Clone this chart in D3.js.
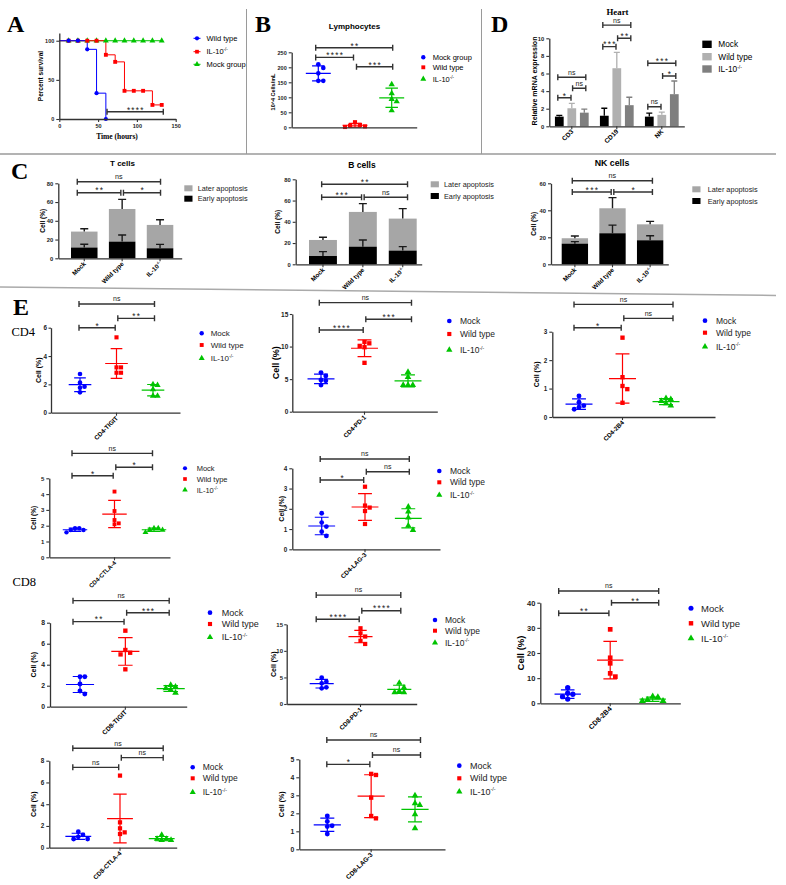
<!DOCTYPE html>
<html><head><meta charset="utf-8">
<script src="https://cdn.jsdelivr.net/npm/d3@7"></script>
<style>body{margin:0;background:#fff}svg{display:block}</style>
</head><body>
<svg id="c" width="786" height="885"></svg>
<script>
// ================= DATA =================
const GROUPS = ["Mock", "Wild type", "IL-10"];
// Panel A: survival (%)
const A_TIMES = [0, 12, 24, 36, 48, 60, 72, 84, 96, 108, 120, 132];
const A_WILD = [100, 100, 100, 89, 33, 0];
const A_IL10 = [100, 100, 100, 100, 100, 82, 73, 36, 36, 36, 18, 18];
const A_MOCK = [100, 100, 100, 100, 100, 100, 100, 100, 100, 100, 100, 100];
const A_TICKS_X = [0, 50, 100, 150];
const A_TICKS_Y = [0, 50, 100];
// Panel B: lymphocytes (10^4 cells/mL)
const B_MOCK = [210, 198, 180, 155, 155];
const B_WILD = [17, 8, 5, 3, 1];
const B_IL10 = [143, 113, 94, 86, 56];
const B_TICKS = [0, 50, 100, 150, 200, 250];
const B_SIG = [["**", 0, 2, 265], ["****", 0, 1, 233], ["***", 1, 2, 202]];
// Panel C: apoptosis (%), order Mock, Wild type, IL-10
const CT_EARLY = [11.5, 17.8, 10.7], CT_EARLY_SD = [3.5, 7.1, 4.2];
const CT_LATER = [17.0, 34.8, 24.9], CT_LATER_SD = [3.1, 10.3, 5.6];
const CB_EARLY = [7.8, 16.6, 12.9], CB_EARLY_SD = [4.1, 6.3, 3.7];
const CB_LATER = [15.1, 32.7, 30.1], CB_LATER_SD = [2.5, 7.8, 9.4];
const CN_EARLY = [15.3, 23.0, 17.8], CN_EARLY_SD = [1.5, 6.0, 3.4];
const CN_LATER = [4.0, 18.5, 11.8], CN_LATER_SD = [1.7, 7.9, 2.2];
const CT_SIG = [["ns", 0, 2, 81.7], ["**", 0, 1, 70], ["*", 1, 2, 70]];
const CB_SIG = [["**", 0, 2, 75.3], ["***", 0, 1, 63.1], ["ns", 1, 2, 63.1]];
const CN_SIG = [["ns", 0, 2, 61.9], ["***", 0, 1, 53.6], ["*", 1, 2, 53.6]];
// Panel D: relative mRNA expression
const D_GENES = ["CD3", "CD19", "NK"];
const D_MOCK = [1.1, 1.2, 1.1], D_MOCK_SD = [0.15, 0.85, 0.4];
const D_WILD = [2.05, 6.6, 1.3], D_WILD_SD = [0.55, 1.8, 0.3];
const D_IL10 = [1.55, 2.4, 3.65], D_IL10_SD = [0.4, 0.9, 1.5];
const D_TICKS = [0, 2, 4, 6, 8, 10];
const D_SIG = [["ns",0,0,2,5.57],["*",0,0,1,3.25],["ns",0,1,2,4.32],
               ["ns",1,0,2,11.5],["***",1,0,1,9.05],["**",1,1,2,10.0],
               ["***",2,0,2,7.16],["*",2,1,2,5.72],["ns",2,0,1,2.23]];
// Panel E: cell (%), [Mock, Wild type, IL-10]
const CD4_TIGIT = [[2.73,2.12,1.84,1.76,1.44],[5.32,3.2,3.2,2.82,2.82],[2.0,1.95,1.65,1.18,1.18]];
const CD4_PD1   = [[6.0,5.5,4.86,4.76,4.1],[10.7,10.5,10.1,9.9,7.5],[6.1,5.3,4.1,4.1,4.1]];
const CD4_2B4   = [[0.74,0.52,0.40,0.34,0.27],[2.79,1.40,1.09,0.98,0.50],[0.66,0.62,0.56,0.48,0.40]];
const CD4_CTLA4 = [[1.84,1.84,1.73,1.73,1.58],[4.16,2.93,2.36,2.15,2.09],[1.84,1.84,1.73,1.73,1.58]];
const CD4_LAG3  = [[1.78,1.32,1.12,0.87,0.66],[3.09,2.16,2.06,1.89,1.25],[2.1,1.86,1.56,1.17,0.95]];
const CD8_TIGIT = [[2.86,2.86,2.16,1.49,1.21],[7.24,5.4,5.14,4.98,3.56],[2.06,1.9,1.75,1.6,1.33]];
const CD8_PD1   = [[4.96,4.2,3.9,3.14,2.95],[14.25,13.3,12.7,11.9,11.3],[3.95,3.1,2.4,2.2,2.2]];
const CD8_2B4   = [[6.2,4.0,3.6,2.65,1.7],[29.4,18.1,15.9,11.9,10.6],[2.65,2.4,1.3,0.9,0.9]];
const CD8_CTLA4 = [[1.47,1.17,1.0,0.8,0.8],[6.63,2.33,1.78,1.41,1.26],[1.17,0.8,0.8,0.7,0.7]];
const CD8_LAG3  = [[1.85,1.54,1.31,1.26,0.85],[4.19,4.13,2.87,1.85,1.72],[2.98,2.56,2.46,1.94,1.17]];
const SIG_CD4_TIGIT = [["ns",0,2,7.67],["*",0,1,6.0],["**",1,2,6.66]];
const SIG_CD4_PD1   = [["ns",0,2,16.74],["****",0,1,12.55],["***",1,2,14.19]];
const SIG_CD4_2B4   = [["ns",0,2,3.96],["*",0,1,3.14],["ns",1,2,3.47]];
const SIG_CD4_CTLA4 = [["ns",0,2,6.58],["*",0,1,5.16],["*",1,2,5.7]];
const SIG_CD4_LAG3  = [["ns",0,2,4.46],["*",0,1,3.42],["ns",1,2,3.83]];
const SIG_CD8_TIGIT = [["ns",0,2,10.1],["**",0,1,8.1],["***",1,2,8.95]];
const SIG_CD8_PD1   = [["ns",0,2,20.5],["****",0,1,15.94],["****",1,2,17.56]];
const SIG_CD8_2B4   = [["ns",0,2,44.65],["**",0,1,35.8],["**",1,2,40]];
const SIG_CD8_CTLA4 = [["ns",0,2,9.14],["ns",0,1,7.39],["ns",1,2,8.28]];
const SIG_CD8_LAG3  = [["ns",0,2,6.07],["*",0,1,4.72],["ns",1,2,5.24]];

// ================= STYLE =================
const SANS = "'Liberation Sans', Arial, sans-serif";
const SERIF = "'Liberation Serif', 'Times New Roman', serif";
const COLS = ["#0000ff", "#ff0000", "#00c400"];
const SYMS = [d3.symbolCircle, d3.symbolSquare, d3.symbolTriangle];
const AX = "#333";
const LATER_C = "#a6a6a6";
const D_COLS = ["#000000", "#b0b0b0", "#7f7f7f"];
const FMT = d3.format("d");

const svg = d3.select("#c");
svg.append("rect").attr("width", 786).attr("height", 885).attr("fill", "#fff");

function txt(g, x, y, s, o = {}) {
  const t = g.append("text").attr("x", x).attr("y", y).text(s)
    .attr("font-family", o.ff || SANS).attr("font-size", o.fs || 8)
    .attr("font-weight", o.fw || "normal").attr("fill", o.fill || "#000")
    .attr("text-anchor", o.anchor || "start");
  if (o.ls) t.attr("letter-spacing", o.ls);
  if (o.rotate != null) t.attr("transform", `rotate(${o.rotate},${x},${y})`);
  return t;
}
function ilText(g, x, y, o) {
  const t = txt(g, x, y, "IL-10", o);
  t.append("tspan").attr("dy", -o.fs * 0.4).attr("font-size", o.fs * 0.6).text("-/-");
  return t;
}
function groupLabel(g, i, x, y, o) {
  return i === 2 ? ilText(g, x, y, o) : txt(g, x, y, GROUPS[i], o);
}
function styleAxis(sel, fs) {
  sel.selectAll(".domain").attr("stroke", AX).attr("stroke-width", 1.3);
  sel.selectAll(".tick line").attr("stroke", AX).attr("stroke-width", 1.1);
  sel.selectAll(".tick text").attr("font-family", SANS).attr("font-size", fs)
    .attr("font-weight", "bold").attr("fill", "#222");
}
function yAxis(g, y, x0, ticks, fs, ts = 3, tp = 2) {
  g.append("g").attr("transform", `translate(${x0},0)`)
    .call(d3.axisLeft(y).tickValues(ticks).tickFormat(FMT).tickSize(ts).tickPadding(tp).tickSizeOuter(0))
    .call(styleAxis, fs);
}
function xLine(g, x0, x1, y0) {
  g.append("g").attr("transform", `translate(0,${y0})`)
    .call(d3.axisBottom(d3.scaleLinear().range([x0, x1])).tickValues([]).tickSizeOuter(0))
    .call(styleAxis, 6);
}
function bracket(g, x1, x2, yy, label, fs) {
  g.append("path").attr("d", `M${x1},${yy - 3}V${yy + 3}M${x1},${yy}H${x2}M${x2},${yy - 3}V${yy + 3}`)
    .attr("stroke", "#333").attr("stroke-width", 1.4).attr("fill", "none");
  const star = label.includes("*");
  if (star) txt(g, (x1 + x2) / 2 + 0.7, yy + 0.8, label, { fs: fs + 1.2, anchor: "middle", fill: "#222", ls: 1.3 });
  else txt(g, (x1 + x2) / 2, yy - 2.6, label, { fs: fs, anchor: "middle", fill: "#222" });
}
function symPath(i, size) { return d3.symbol().type(SYMS[i]).size(size)(); }
function dodge(vals, y, d) {
  const idx = vals.map((v, i) => i).sort((a, b) => vals[b] - vals[a]);
  const placed = [], off = new Array(vals.length).fill(0);
  for (const i of idx) {
    const py = y(vals[i]);
    for (let k = 0; k < 30; k++) {
      const o = k === 0 ? 0 : (k % 2 ? 1 : -1) * Math.ceil(k / 2) * d;
      if (placed.every(p => Math.hypot(p[0] - o, p[1] - py) >= d * 0.98)) {
        off[i] = o; placed.push([o, py]); break;
      }
    }
  }
  return off;
}
function meanSD(g, vals, cx, y, mh, ch, col) {
  const m = d3.mean(vals), sd = d3.deviation(vals);
  g.append("path").attr("d",
    `M${cx - mh},${y(m)}H${cx + mh}M${cx},${y(m - sd)}V${y(m + sd)}` +
    `M${cx - ch},${y(m - sd)}H${cx + ch}M${cx - ch},${y(m + sd)}H${cx + ch}`)
    .attr("stroke", col).attr("stroke-width", 1.2).attr("fill", "none");
}

// ================= SEPARATORS & LETTERS =================
const sep = svg.append("g").attr("stroke", "#9a9a9a").attr("fill", "none");
sep.append("line").attr("x1", 0).attr("x2", 776).attr("y1", 154).attr("y2", 154).attr("stroke-width", 1.6);
sep.append("line").attr("x1", 246.5).attr("x2", 246.5).attr("y1", 9).attr("y2", 154).attr("stroke-width", 1);
sep.append("line").attr("x1", 481.5).attr("x2", 481.5).attr("y1", 9).attr("y2", 154).attr("stroke-width", 1);
sep.append("line").attr("x1", 0).attr("x2", 776).attr("y1", 287).attr("y2", 295.5).attr("stroke-width", 1.5).attr("stroke", "#aaa");

const L = svg.append("g");
[["A", 7, 32], ["B", 255, 32], ["D", 491, 32], ["C", 11, 178.5], ["E", 13, 315]].forEach(([s, x, y]) =>
  txt(L, x, y, s, { ff: SERIF, fs: 24, fw: "bold" }));
txt(L, 11.5, 335.7, "CD4", { ff: SERIF, fs: 12.5 });
txt(L, 12.5, 585.5, "CD8", { ff: SERIF, fs: 12.5 });

// ================= PANEL A =================
(function () {
  const g = svg.append("g");
  const x = d3.scaleLinear().domain([0, 150]).range([59.3, 175.7]);
  const y = d3.scaleLinear().domain([0, 110]).range([119, 32.9]);
  const series = [
    { v: A_MOCK, c: 2 }, { v: A_IL10, c: 1 }, { v: A_WILD, c: 0 }
  ];
  const line = d3.line().curve(d3.curveStepAfter).x(d => x(d[0])).y(d => y(d[1]));
  series.forEach(s => {
    const pts = s.v.map((v, i) => [A_TIMES[i], v]);
    g.append("path").attr("d", line(pts)).attr("stroke", COLS[s.c]).attr("stroke-width", 1).attr("fill", "none");
  });
  series.forEach(s => {
    s.v.forEach((v, i) => {
      if (A_TIMES[i] === 0) return;
      g.append("path").attr("d", symPath(s.c, s.c === 0 ? 14 : 15))
        .attr("transform", `translate(${x(A_TIMES[i])},${y(v)})`).attr("fill", COLS[s.c]);
    });
  });
  g.append("g").attr("transform", "translate(59.3,0)")
    .call(d3.axisLeft(y).tickValues(A_TICKS_Y).tickFormat(FMT).tickSize(3).tickPadding(2).tickSizeOuter(0)).call(styleAxis, 5.5);
  g.append("g").attr("transform", "translate(0,119)")
    .call(d3.axisBottom(x).tickValues(A_TICKS_X).tickFormat(FMT).tickSize(3).tickPadding(2).tickSizeOuter(0)).call(styleAxis, 5.5);
  bracket(g, x(61.5), x(134), y(9.3), "****", 7);
  txt(g, 42.5, 76, "Percent survival", { fs: 6.5, fw: "bold", anchor: "middle", rotate: -90 });
  txt(g, 117, 138.5, "Time (hours)", { ff: SERIF, fs: 7.5, fw: "bold", anchor: "middle" });
  // legend
  const leg = [[0, "Wild type"], [1, null], [2, "Mock group"]];
  [38.3, 51.7, 64.3].forEach((ly, k) => {
    const c = leg[k][0];
    g.append("line").attr("x1", 193.5).attr("x2", 200.5).attr("y1", ly).attr("y2", ly).attr("stroke", COLS[c]).attr("stroke-width", 1);
    g.append("path").attr("d", symPath(c, 14)).attr("transform", `translate(197,${ly})`).attr("fill", COLS[c]);
    const o = { fs: 7.5 };
    if (c === 1) ilText(g, 206.5, ly + 2.7, o); else txt(g, 206.5, ly + 2.7, leg[k][1], o);
  });
})();

// ================= PANEL B =================
(function () {
  const g = svg.append("g");
  const y = d3.scaleLinear().domain([0, 250]).range([127.3, 52.3]);
  const xg = d3.scalePoint().domain([0, 1, 2]).range([318.3, 391.7]);
  const data = [B_MOCK, B_WILD, B_IL10];
  const step = xg.step();
  data.forEach((vals, i) => meanSD(g, vals, xg(i), y, step * 0.34, step * 0.17, COLS[i]));
  data.forEach((vals, i) => {
    const off = dodge(vals, y, 5);
    vals.forEach((v, k) => g.append("path").attr("d", symPath(i, 17))
      .attr("transform", `translate(${xg(i) + off[k]},${y(v)})`).attr("fill", COLS[i]));
  });
  yAxis(g, y, 291.7, B_TICKS, 5.5);
  xLine(g, 291.7, 416.7, 127.3);
  B_SIG.forEach(([lab, i, j, v]) => {
    const x1 = xg(i) + (i === 1 ? 1.5 : -2.6), x2 = xg(j) + (j === 1 ? -1.5 : 1);
    bracket(g, x1, x2, y(v), lab, 7);
  });
  txt(g, 354.5, 28.5, "Lymphocytes", { fs: 8, fw: "bold", anchor: "middle" });
  txt(g, 274.5, 92, "10^4 Cells/mL", { fs: 5.5, fw: "bold", anchor: "middle", rotate: -90 });
  ["Mock group", "Wild type", null].forEach((s, i) => {
    const ly = [57.3, 67.3, 79][i];
    g.append("path").attr("d", symPath(i, 15)).attr("transform", `translate(423.3,${ly})`).attr("fill", COLS[i]);
    if (s) txt(g, 432.7, ly + 2.7, s, { fs: 7.5 }); else ilText(g, 432.7, ly + 2.7, { fs: 7.5 });
  });
})();

// ================= PANEL D =================
(function () {
  const g = svg.append("g");
  const y = d3.scaleLinear().domain([0, 10]).range([126.3, 38.3]);
  const xo = d3.scaleBand().domain([0, 1, 2]).range([549.3, 684.3]);
  const xi = d3.scaleBand().domain([0, 1, 2]).range([0, xo.bandwidth()]).paddingInner(0.3).paddingOuter(0.45);
  const vals = [D_MOCK, D_WILD, D_IL10], sds = [D_MOCK_SD, D_WILD_SD, D_IL10_SD];
  const cx = (c, s) => xo(c) + xi(s) + xi.bandwidth() / 2;
  D_GENES.forEach((gname, c) => {
    [0, 1, 2].forEach(s => {
      const v = vals[s][c], e = sds[s][c];
      g.append("rect").attr("x", xo(c) + xi(s)).attr("width", xi.bandwidth())
        .attr("y", y(v)).attr("height", y(0) - y(v)).attr("fill", D_COLS[s]);
      const xc = cx(c, s);
      g.append("path").attr("d", `M${xc},${y(v)}V${y(v + e)}M${xc - 3},${y(v + e)}H${xc + 3}`)
        .attr("stroke", D_COLS[s]).attr("stroke-width", 1.3).attr("fill", "none");
    });
    const tx = cx(c, 1);
    g.append("line").attr("x1", tx).attr("x2", tx).attr("y1", 126.3).attr("y2", 129.3).attr("stroke", AX).attr("stroke-width", 1.1);
    txt(g, tx + 2, 132, gname, { fs: 6.5, fw: "bold", anchor: "end", rotate: -45 });
  });
  yAxis(g, y, 549.3, D_TICKS, 5.8);
  xLine(g, 549.3, 684.3, 126.3);
  D_SIG.forEach(([lab, c, i, j, v]) => {
    const x1 = cx(c, i) + (i === 1 ? 0.8 : -1.5), x2 = cx(c, j) + (j === 1 ? -0.8 : 1.5);
    bracket(g, x1, x2, y(v), lab, 7);
  });
  txt(g, 617.5, 15, "Heart", { ff: SERIF, fs: 8.8, fw: "bold", anchor: "middle" });
  txt(g, 537, 81, "Relative mRNA expression", { fs: 7, fw: "bold", anchor: "middle", rotate: -90 });
  ["Mock", "Wild type", null].forEach((s, i) => {
    const ly = [44.3, 56.7, 69][i];
    g.append("rect").attr("x", 702.3).attr("y", ly - 3.7).attr("width", 9.4).attr("height", 7.4).attr("fill", D_COLS[i]);
    if (s) txt(g, 718.3, ly + 3, s, { fs: 8.3 }); else ilText(g, 718.3, ly + 3, { fs: 8.3 });
  });
})();

// ================= PANEL C =================
function stackPanel(c) {
  const g = svg.append("g");
  const y = d3.scaleLinear().domain([0, c.yMax]).range([c.y0, c.yTop]);
  const x = d3.scaleBand().domain([0, 1, 2]).range(c.bars).paddingInner(0.3);
  const cx = i => x(i) + x.bandwidth() / 2;
  [0, 1, 2].forEach(i => {
    const e = c.early[i], l = c.later[i];
    g.append("rect").attr("x", x(i)).attr("width", x.bandwidth()).attr("y", y(e + l))
      .attr("height", y(e) - y(e + l)).attr("fill", LATER_C);
    g.append("rect").attr("x", x(i)).attr("width", x.bandwidth()).attr("y", y(e))
      .attr("height", y(0) - y(e)).attr("fill", "#000");
    const xc = cx(i);
    [[e, c.earlySD[i]], [e + l, c.laterSD[i]]].forEach(([top, sd]) => {
      g.append("path").attr("d", `M${xc},${y(top)}V${y(top + sd)}M${xc - 4},${y(top + sd)}H${xc + 4}`)
        .attr("stroke", "#1a1a1a").attr("stroke-width", 1.4).attr("fill", "none");
    });
    g.append("line").attr("x1", xc).attr("x2", xc).attr("y1", c.y0).attr("y2", c.y0 + 3).attr("stroke", AX).attr("stroke-width", 1.1);
    groupLabel(g, i, xc + 2, c.y0 + 6, { fs: 6.3, fw: "bold", anchor: "end", rotate: -45 });
  });
  yAxis(g, y, c.x0, c.ticks, 5.8);
  xLine(g, c.x0, c.xEnd, c.y0);
  c.sig.forEach(([lab, i, j, v]) => {
    const x1 = cx(i) + (i === 1 ? 1.3 : -c.bx[0]), x2 = cx(j) + (j === 1 ? -1.3 : c.bx[1]);
    bracket(g, x1, x2, y(v), lab, 7.2);
  });
  txt(g, c.title[1], c.title[2], c.title[0], { fs: c.title[3], fw: "bold", anchor: "middle" });
  txt(g, c.yl, (c.y0 + c.yTop) / 2, "Cell (%)", { fs: 6.5, fw: "bold", anchor: "middle", rotate: -90 });
  [["Later apoptosis", LATER_C], ["Early apoptosis", "#000"]].forEach(([s, col], k) => {
    const ly = c.ly[k];
    g.append("rect").attr("x", c.lx).attr("y", ly - 3).attr("width", 8.2).attr("height", 6).attr("fill", col);
    txt(g, c.tx, ly + 2.7, s, { fs: 7.3, fill: "#222" });
  });
}
stackPanel({ early: CT_EARLY, earlySD: CT_EARLY_SD, later: CT_LATER, laterSD: CT_LATER_SD, sig: CT_SIG,
  x0: 58.3, xEnd: 181.7, y0: 258.3, yMax: 80, yTop: 183.3, bars: [71, 173.3], ticks: [0, 20, 40, 60, 80],
  bx: [7, 0.5], title: ["T cells", 122.5, 165.7, 8], yl: 45, lx: 184.3, tx: 197.7, ly: [188.3, 198.7] });
stackPanel({ early: CB_EARLY, earlySD: CB_EARLY_SD, later: CB_LATER, laterSD: CB_LATER_SD, sig: CB_SIG,
  x0: 295.7, xEnd: 421.7, y0: 264.3, yMax: 80, yTop: 179.3, bars: [309, 416.7], ticks: [0, 20, 40, 60, 80],
  bx: [1.3, 4.8], title: ["B cells", 362, 168.3, 8.5], yl: 280.5, lx: 430.7, tx: 444, ly: [184.3, 196] });
stackPanel({ early: CN_EARLY, earlySD: CN_EARLY_SD, later: CN_LATER, laterSD: CN_LATER_SD, sig: CN_SIG,
  x0: 551, xEnd: 668.3, y0: 264.3, yMax: 60, yTop: 183.3, bars: [561.7, 663.3], ticks: [0, 20, 40, 60],
  bx: [2.6, 2.3], title: ["NK cells", 612, 166, 8.8], yl: 536.5, lx: 692.3, tx: 707.7, ly: [189.3, 201] });

// ================= PANEL E =================
const E_PANELS = [
  { name: "CD4-TIGIT", data: CD4_TIGIT, sig: SIG_CD4_TIGIT, ticks: [0, 2, 4, 6], x0: 51, xEnd: 180, y0: 412.7, yTop: 327.7, gx: [80, 153], bx: [1, 1.5], yl: 41.5, tfs: 7, fs: 6.3, lfs: 8, lx: 201.7, tx: 210.7, ly: [333.3, 345, 358.3], ms: 17, cfs: 6.3, ts: 2.5, tp: 1.5 },
  { name: "CD4-PD-1", data: CD4_PD1, sig: SIG_CD4_PD1, ticks: [0, 5, 10, 15], x0: 292.3, xEnd: 437.3, y0: 411.7, yTop: 314, gx: [321, 408], bx: [1.7, 3.5], yl: 279, tfs: 9, fs: 6.5, lfs: 8.5, lx: 449.3, tx: 460, ly: [321, 334, 350], ms: 19, cfs: 6.3, ts: 2.5, tp: 1.5 },
  { name: "CD4-2B4", data: CD4_2B4, sig: SIG_CD4_2B4, ticks: [0, 1, 2, 3], x0: 552.3, xEnd: 715, y0: 417, yTop: 331.7, gx: [579, 666], bx: [5, 7], yl: 539.5, tfs: 7, fs: 6.3, lfs: 8.5, lx: 705, tx: 716, ly: [320.7, 332.7, 346.7], ms: 19, cfs: 6.3 },
  { name: "CD4-CTLA-4", data: CD4_CTLA4, sig: SIG_CD4_CTLA4, ticks: [0, 1, 2, 3, 4, 5], x0: 49.3, xEnd: 170, y0: 557.3, yTop: 478.3, gx: [75, 154], bx: [3, -1.5], yl: 36, tfs: 6.5, fs: 6, lfs: 7.5, lx: 185, tx: 196.7, ly: [468.3, 479, 490], ms: 15, cfs: 6 },
  { name: "CD4-LAG-3", data: CD4_LAG3, sig: SIG_CD4_LAG3, ticks: [0, 1, 2, 3, 4], x0: 292.3, xEnd: 440, y0: 549.3, yTop: 468.3, gx: [321.7, 408.3], bx: [1.5, 1], yl: 284.5, tfs: 7, fs: 6.3, lfs: 8.5, lx: 439.3, tx: 450, ly: [471, 482.3, 495], ms: 18, cfs: 6.3 },
  { name: "CD8-TIGIT", data: CD8_TIGIT, sig: SIG_CD8_TIGIT, ticks: [0, 2, 4, 6, 8], x0: 50, xEnd: 186.7, y0: 706.7, yTop: 622.7, gx: [80, 170.7], bx: [7, -1.5], yl: 36.5, tfs: 7, fs: 6.8, lfs: 9, lx: 210, tx: 221.7, ly: [612.7, 624, 637.3], ms: 19, cfs: 6.5 },
  { name: "CD8-PD-1", data: CD8_PD1, sig: SIG_CD8_PD1, ticks: [0, 5, 10, 15], x0: 286.7, xEnd: 416.7, y0: 704, yTop: 624.3, gx: [321.7, 399.3], bx: [5.5, 1.5], yl: 276.5, tfs: 7, fs: 6, lfs: 8.5, lx: 435, tx: 445, ly: [620, 630.7, 642.7], ms: 18, cfs: 6.3, ts: 2.5, tp: 1.2 },
  { name: "CD8-2B4", data: CD8_2B4, sig: SIG_CD8_2B4, ticks: [0, 10, 20, 30, 40], x0: 540.3, xEnd: 680.3, y0: 703.3, yTop: 602.7, gx: [567.7, 652.7], bx: [9, 6], yl: 524, tfs: 9.5, fs: 7.5, lfs: 9.5, lx: 691, tx: 701, ly: [608.3, 623.3, 638.3], ms: 22, cfs: 7 },
  { name: "CD8-CTLA-4", data: CD8_CTLA4, sig: SIG_CD8_CTLA4, ticks: [0, 2, 4, 6, 8], x0: 49.3, xEnd: 176.7, y0: 847.7, yTop: 760.7, gx: [78.3, 161.7], bx: [5.5, 1.5], yl: 36.5, tfs: 7, fs: 6.3, lfs: 8.5, lx: 192.7, tx: 202.7, ly: [767.3, 778.3, 792.3], ms: 18, cfs: 6.3 },
  { name: "CD8-LAG-3", data: CD8_LAG3, sig: SIG_CD8_LAG3, ticks: [0, 1, 2, 3, 4, 5], x0: 299.3, xEnd: 445, y0: 849.3, yTop: 759.3, gx: [327.3, 415], bx: [0.5, 5.5], yl: 284.5, tfs: 7, fs: 6.8, lfs: 9, lx: 459.3, tx: 470, ly: [765.7, 778.3, 791.7], ms: 19, cfs: 6.5 }
];

function scatterPanel(c) {
  const g = svg.append("g");
  const y = d3.scaleLinear().domain([0, c.ticks[c.ticks.length - 1]]).range([c.y0, c.yTop]);
  const xg = d3.scalePoint().domain([0, 1, 2]).range(c.gx);
  const step = xg.step();
  c.data.forEach((vals, i) => meanSD(g, vals, xg(i), y, step * 0.31, step * 0.16, COLS[i]));
  c.data.forEach((vals, i) => {
    const off = dodge(vals, y, Math.sqrt(c.ms) * 1.1);
    vals.forEach((v, k) => g.append("path").attr("d", symPath(i, c.ms))
      .attr("transform", `translate(${xg(i) + off[k]},${y(v)})`).attr("fill", COLS[i]));
  });
  yAxis(g, y, c.x0, c.ticks, c.fs, c.ts || 3, c.tp || 2);
  xLine(g, c.x0, c.xEnd, c.y0);
  const mx = xg(1);
  g.append("line").attr("x1", mx).attr("x2", mx).attr("y1", c.y0).attr("y2", c.y0 + 3).attr("stroke", AX).attr("stroke-width", 1.1);
  txt(g, mx + 2, c.y0 + 6, c.name, { fs: c.cfs, fw: "bold", anchor: "end", rotate: -45 });
  c.sig.forEach(([lab, i, j, v]) => {
    const x1 = xg(i) + (i === 1 ? 1.3 : -c.bx[0]), x2 = xg(j) + (j === 1 ? -1.3 : c.bx[1]);
    bracket(g, x1, x2, y(v), lab, 7);
  });
  txt(g, c.yl, (c.y0 + c.yTop) / 2, "Cell (%)", { fs: c.tfs, fw: "bold", anchor: "middle", rotate: -90 });
  c.ly.forEach((ly, i) => {
    g.append("path").attr("d", symPath(i, c.ms * 0.9)).attr("transform", `translate(${c.lx},${ly})`).attr("fill", COLS[i]);
    groupLabel(g, i, c.tx, ly + c.lfs * 0.35, { fs: c.lfs, fill: "#222" });
  });
}
E_PANELS.forEach(scatterPanel);
</script>
</body></html>
